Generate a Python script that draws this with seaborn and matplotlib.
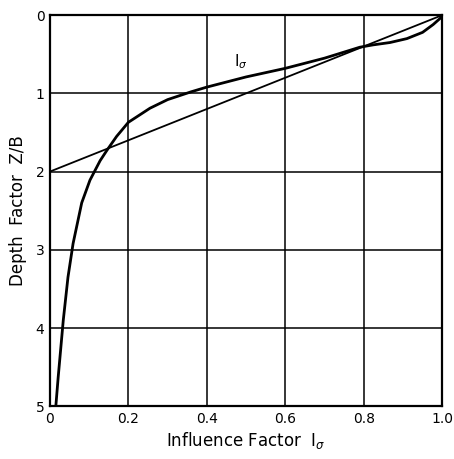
import numpy as np
import matplotlib
matplotlib.use("Agg")
import matplotlib.pyplot as plt
import seaborn as sns

# influence factor curve, depth factor Z/B
curve_i = [1.0, 0.995, 0.977, 0.95, 0.91, 0.867, 0.824, 0.79, 0.70, 0.60, 0.50,
           0.40, 0.36, 0.30, 0.255, 0.20, 0.17, 0.145, 0.128, 0.102, 0.081,
           0.059, 0.046, 0.034, 0.021, 0.015]
curve_z = [0.0, 0.04, 0.12, 0.22, 0.30, 0.35, 0.38, 0.41, 0.55, 0.68, 0.79,
           0.92, 0.98, 1.08, 1.19, 1.37, 1.55, 1.73, 1.86, 2.11, 2.40,
           2.92, 3.35, 3.90, 4.63, 5.0]

# straight approximation
line_i = [1.0, 0.0]
line_z = [0.0, 2.0]

x_ticks = [0, 0.2, 0.4, 0.6, 0.8, 1.0]
x_labels = ["0", "0.2", "0.4", "0.6", "0.8", "1.0"]
y_ticks = [0, 1, 2, 3, 4, 5]

sns.set_style("white")
plt.rcParams['font.family'] = ['DejaVu Sans']
plt.rcParams['text.color'] = 'black'
plt.rcParams['axes.labelcolor'] = 'black'
plt.rcParams['xtick.color'] = 'black'
plt.rcParams['ytick.color'] = 'black'

fig = plt.figure(figsize=(4.54, 4.59), dpi=100)
ax = fig.add_axes([0.110, 0.115, 0.864, 0.852])

sns.lineplot(x=curve_i, y=curve_z, sort=False, estimator=None, color='black', lw=2.0, ax=ax)
sns.lineplot(x=line_i, y=line_z, sort=False, estimator=None, color='black', lw=1.3, ax=ax)

ax.set_xlim(0, 1.0)
ax.set_ylim(5, 0)
ax.set_xticks(x_ticks)
ax.set_xticklabels(x_labels)
ax.set_yticks(y_ticks)
ax.grid(True, color='black', lw=1.1)
ax.tick_params(length=0, labelsize=10, pad=4)
for s in ax.spines.values():
    s.set_color('black')
    s.set_linewidth(1.6)

ax.text(0.47, 0.66, r'$\mathrm{I}_\sigma$', fontsize=11)
ax.set_xlabel(r'Influence Factor  $\mathrm{I}_\sigma$', fontsize=12, labelpad=3)
ax.set_ylabel('Depth  Factor  Z/B', fontsize=12, labelpad=6)

fig.savefig('out.png', dpi=100)
